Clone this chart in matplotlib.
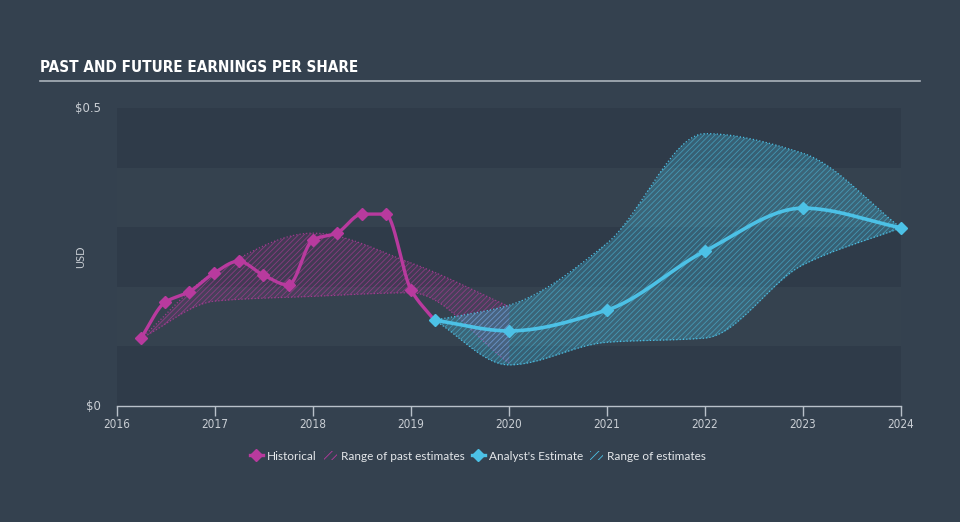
import numpy as np
import matplotlib
matplotlib.use('Agg')
import matplotlib.pyplot as plt
from matplotlib.lines import Line2D
from matplotlib.patches import Patch
from matplotlib import font_manager

# historical EPS
hist_x = [2016.245, 2016.49, 2016.73, 2016.99, 2017.24, 2017.49, 2017.75,
          2018.0, 2018.24, 2018.5, 2018.74, 2019.0, 2019.24]
hist_y = [0.114, 0.174, 0.191, 0.223, 0.243, 0.220, 0.203,
          0.279, 0.290, 0.322, 0.322, 0.195, 0.144]

# range of past estimates
past_x = [2016.25, 2017.0, 2018.0, 2019.0, 2020.0]
past_hi = [0.114, 0.225, 0.290, 0.240, 0.167]
past_lo = [0.114, 0.176, 0.184, 0.190, 0.072]

# analyst estimates
est_x = [2019.24, 2020.0, 2021.0, 2022.0, 2023.0, 2024.0]
est_y = [0.144, 0.126, 0.161, 0.260, 0.332, 0.299]
est_hi = [0.144, 0.169, 0.273, 0.457, 0.424, 0.299]
est_lo = [0.144, 0.069, 0.107, 0.114, 0.237, 0.299]

years = list(range(2016, 2025))

BG = '#34414f'
PINK = '#b83a9e'
CYAN = '#4cc1e6'
TXT = '#c9ced4'

names = sorted({f.name for f in font_manager.fontManager.ttflist})
print([n for n in names if 'ondens' in n or 'arrow' in n])


def smooth(xs, ys, n=30):
    # monotone cubic curve through the points, for drawing only
    x = np.asarray(xs, float)
    y = np.asarray(ys, float)
    h = np.diff(x)
    d = np.diff(y) / h
    m = np.zeros_like(y)
    m[0], m[-1] = d[0], d[-1]
    for k in range(1, len(x) - 1):
        if d[k - 1] * d[k] > 0:
            w1 = 2 * h[k] + h[k - 1]
            w2 = h[k] + 2 * h[k - 1]
            m[k] = (w1 + w2) / (w1 / d[k - 1] + w2 / d[k])
    ox, oy = [], []
    for k in range(len(x) - 1):
        t = np.linspace(0, 1, n, endpoint=False)
        h00 = 2 * t ** 3 - 3 * t ** 2 + 1
        h10 = t ** 3 - 2 * t ** 2 + t
        h01 = -2 * t ** 3 + 3 * t ** 2
        h11 = t ** 3 - t ** 2
        ox.append(x[k] + t * h[k])
        oy.append(h00 * y[k] + h10 * h[k] * m[k] + h01 * y[k + 1] + h11 * h[k] * m[k + 1])
    ox.append([x[-1]])
    oy.append([y[-1]])
    return np.concatenate(ox), np.concatenate(oy)


plt.rcParams['hatch.linewidth'] = 0.6

fig = plt.figure(figsize=(9.6, 5.22), dpi=100, facecolor=BG)
ax = fig.add_axes([117 / 960, 1 - 406 / 522, 784 / 960, 298 / 522])
ax.set_facecolor(BG)
ax.set_xlim(2016, 2024)
ax.set_ylim(0, 0.5)

# horizontal bands
for i in range(5):
    c = '#2f3b49' if i % 2 == 0 else '#35424f'
    ax.axhspan(i * 0.1, (i + 1) * 0.1, color=c, lw=0, zorder=0)

# past range
sx, shi = smooth(past_x, past_hi)
_, slo = smooth(past_x, past_lo)
ax.fill_between(sx, slo, shi, color=PINK, alpha=0.14, lw=0, zorder=1)
ax.fill_between(sx, slo, shi, facecolor='none', edgecolor=(0.72, 0.23, 0.62, 0.6),
                hatch='//////', lw=0, zorder=1)
ax.plot(sx, shi, ':', color=PINK, lw=0.9, alpha=0.8, zorder=1)
ax.plot(sx, slo, ':', color=PINK, lw=0.9, alpha=0.8, zorder=1)

# estimate range
ex, ehi = smooth(est_x, est_hi)
_, elo = smooth(est_x, est_lo)
ax.fill_between(ex, elo, ehi, color=CYAN, alpha=0.28, lw=0, zorder=2)
ax.fill_between(ex, elo, ehi, facecolor='none', edgecolor=(0.30, 0.76, 0.90, 0.55),
                hatch='//////', lw=0, zorder=2)
ax.plot(ex, ehi, ':', color=CYAN, lw=0.9, zorder=2)
ax.plot(ex, elo, ':', color=CYAN, lw=0.9, zorder=2)

# lines
hx, hy = smooth(hist_x, hist_y)
ax.plot(hx, hy, color=PINK, lw=2.4, zorder=3, solid_capstyle='round')
ax.plot(hist_x[:-1], hist_y[:-1], 'D', color=PINK, ms=6, zorder=4, clip_on=False)
cx, cy = smooth(est_x, est_y)
ax.plot(cx, cy, color=CYAN, lw=2.6, zorder=5, solid_capstyle='round')
ax.plot(est_x, est_y, 'D', color=CYAN, ms=6, zorder=6, clip_on=False)

# axes styling
for s in ['top', 'right', 'left']:
    ax.spines[s].set_visible(False)
ax.spines['bottom'].set_color('#b9c1ca')
ax.spines['bottom'].set_linewidth(1)
ax.set_xticks(years)
ax.set_xticklabels([str(y) for y in years], fontsize=8.5, color=TXT, fontstretch='condensed')
ax.tick_params(axis='x', direction='out', length=7, width=1, color='#b9c1ca', pad=2)
ax.set_yticks([])

fig.text(101 / 960, 1 - 108 / 522, '$0.5', ha='right', va='center', fontsize=8.5, color=TXT)
fig.text(101 / 960, 1 - 406 / 522, '$0', ha='right', va='center', fontsize=8.5, color=TXT)
fig.text(81 / 960, 1 - 257 / 522, 'USD', ha='center', va='center', rotation=90, fontsize=8,
         color=TXT, family=['Lato', 'DejaVu Sans'])

# title
fig.text(40 / 960, 1 - 68 / 522, 'PAST AND FUTURE EARNINGS PER SHARE', ha='left', va='center',
         fontsize=11, fontweight='bold', color='white', fontstretch='condensed')
fig.add_artist(Line2D([40 / 960, 920 / 960], [1 - 81 / 522, 1 - 81 / 522],
                      color='#aab2bb', lw=1.2))

# legend
handles = [
    Line2D([0], [0], color=PINK, lw=2.4, marker='D', ms=6),
    Patch(facecolor='none', edgecolor=PINK, hatch='////', lw=0),
    Line2D([0], [0], color=CYAN, lw=2.4, marker='D', ms=6),
    Patch(facecolor='none', edgecolor=CYAN, hatch='////', lw=0),
]
labels = ['Historical', 'Range of past estimates', "Analyst's Estimate", 'Range of estimates']
leg = fig.legend(handles, labels, loc='center', bbox_to_anchor=(478 / 960, 1 - 456 / 522),
                 ncol=4, frameon=False, handlelength=1.1, handleheight=0.9,
                 handletextpad=0.35, columnspacing=0.6,
                 prop={'family': ['Lato', 'DejaVu Sans'], 'size': 8.5})
for t in leg.get_texts():
    t.set_color('#e4e7ea')

fig.savefig('out.png', dpi=100, facecolor=BG)
